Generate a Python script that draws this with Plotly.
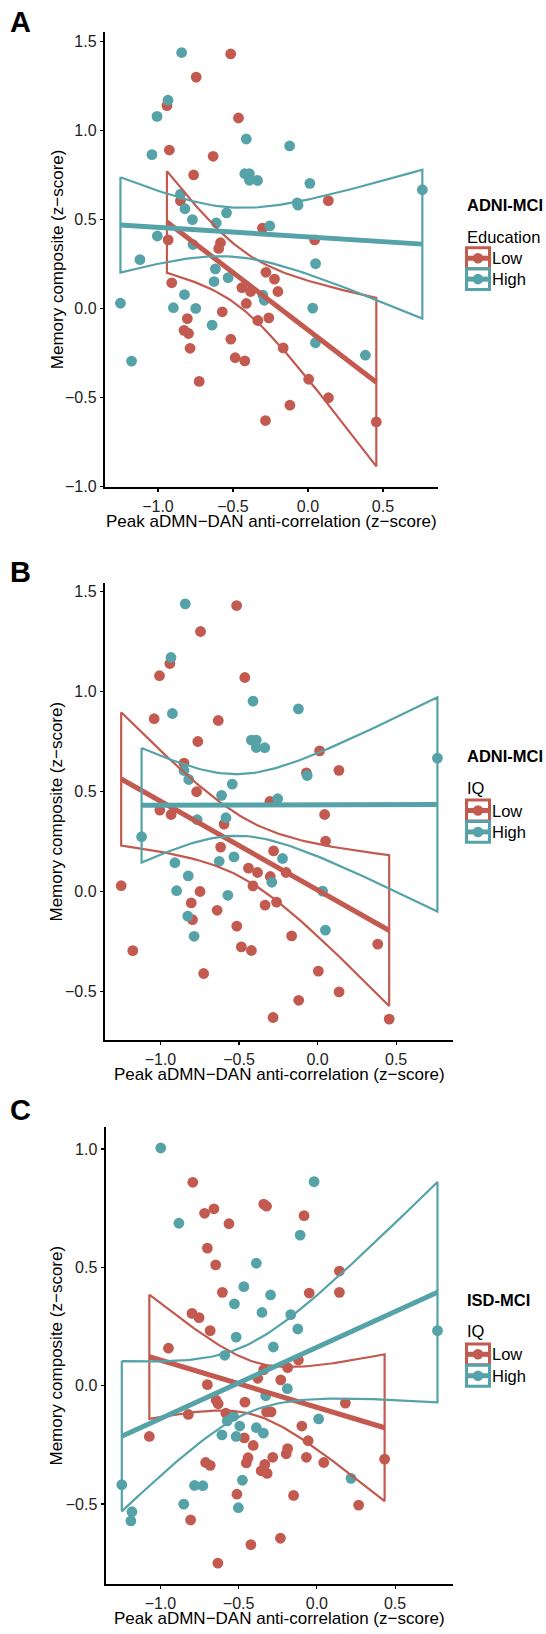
import math
import numpy as np
import plotly.graph_objects as go

# ---------------- DATA ----------------
# ADNI-MCI subjects (same subjects in panels A and B)
adni_x = [-0.515, -0.745, -0.94, -0.463, -0.924, -0.632, -0.762, 0.136, -0.85, -0.303,
          -0.932, 0.045, -0.583, -0.595, -0.28, -0.223, -0.908, -0.20, -0.44, -0.382,
          -0.411, -0.571, -0.804, -0.334, -0.261, -0.826, -0.796, -0.514, -0.786, -0.165,
          -0.485, -0.421, -0.725, 0.005, 0.137, -0.12, -0.283, 0.456,
          -0.842, -0.933, -1.006, -1.04, -0.411, -0.122, -0.421, -0.39, -0.39, -0.336,
          0.013, 0.763, -0.85, -0.066, -0.071, -0.82, -0.543, -0.77, -0.611, -0.254,
          -1.004, -0.766, -1.12, 0.051, -0.617, -0.626, -0.532, -0.823, -0.291, -0.301,
          -0.897, -0.748, -1.25, 0.032, -0.639, 0.05, 0.383, -1.176]
adni_y = [1.43, 1.30, 1.14, 1.07, 0.89, 0.855, 0.75, 0.606, 0.605, 0.451,
          0.385, 0.385, 0.369, 0.337, 0.203, 0.165, 0.144, 0.095, 0.117, 0.095,
          0.028, -0.019, -0.057, -0.068, -0.053, -0.123, -0.141, -0.173, -0.224, -0.222,
          -0.277, -0.295, -0.41, -0.398, -0.502, -0.544, -0.63, -0.638,
          1.438, 1.17, 1.079, 0.864, 0.952, 0.913, 0.757, 0.757, 0.72, 0.719,
          0.703, 0.667, 0.642, 0.58, 0.593, 0.56, 0.537, 0.499, 0.481, 0.464,
          0.407, 0.359, 0.274, 0.252, 0.222, 0.151, 0.173, 0.078, 0.046, 0.075,
          0.004, 0.0, 0.029, 0.002, -0.094, -0.193, -0.263, -0.296]
adni_edu = ["Low"] * 38 + ["High"] * 38
adni_iq = ["Low", "Low", "Low", "Low", "High", "Low", "Low", "Low", "High", "Low",
           "Low", "Low", "High", "Low", "Low", "High", "High", "Low", "Low", "Low",
           "Low", "High", "Low", "Low", "Low", "High", "Low", "Low", "High", "Low",
           "Low", "Low", "Low", "Low", "Low", "Low", "Low", "Low",
           "High", "High", "Low", "Low", "High", "High", "High", "High", "High", "High",
           "Low", "High", "Low", "High", "Low", "High", "High", "Low", "High", "High",
           "Low", "High", "High", "Low", "Low", "High", "High", "High", "High", "Low",
           "High", "Low", "Low", "High", "Low", "High", "Low", "Low"]

# ISD-MCI subjects (panel C)
isd_low_x = [-0.793, -0.718, -0.658, -0.562, -0.340, -0.322, -0.082, -0.700, -0.647, 0.144,
             -0.604, -0.049, 0.144, -0.798, -0.753, -0.682, -0.949, -0.118, -0.187, -0.340,
             -0.378, -0.231, -0.700, -0.644, -0.631, -0.460, 0.182, -0.822, -0.582, -0.293,
             -0.322, -0.096, -1.071, -0.464, -0.056, -0.407, -0.187, -0.196, -0.440, -0.451,
             -0.282, -0.067, 0.044, 0.433, -0.711, -0.682, -0.333, -0.356, -0.318, -0.511,
             -0.149, 0.267, -0.807, -0.233, -0.422, -0.633]
isd_low_y = [0.859, 0.728, 0.747, 0.684, 0.767, 0.758, 0.718, 0.581, 0.510, 0.484,
             0.394, 0.391, 0.394, 0.305, 0.287, 0.232, 0.158, 0.108, 0.076, 0.067,
             0.031, 0.024, 0.004, -0.062, -0.077, -0.070, -0.074, -0.122, -0.117, -0.111,
             -0.111, -0.171, -0.215, -0.221, -0.233, -0.253, -0.266, -0.288, -0.305, -0.327,
             -0.303, -0.303, -0.325, -0.311, -0.325, -0.337, -0.333, -0.360, -0.371, -0.459,
             -0.464, -0.505, -0.568, -0.645, -0.672, -0.750]
isd_high_x = [-0.998, -0.018, -0.882, -0.107, -0.387, -0.467, -0.296, -0.527, -0.351, -0.167,
              -0.122, -0.516, -0.278, -0.589, 0.771, -0.189, -0.327, 0.011, -0.533, -0.573,
              -0.493, -0.387, -0.342, -0.607, -0.516, -1.247, -0.476, -0.782, -0.729, 0.218,
              -0.851, -0.502, -1.182, -1.189]
isd_high_y = [1.004, 0.862, 0.686, 0.636, 0.517, 0.418, 0.383, 0.345, 0.309, 0.300,
              0.239, 0.205, 0.163, 0.128, 0.232, -0.013, -0.043, -0.141, -0.129, -0.149,
              -0.171, -0.178, -0.201, -0.208, -0.215, -0.419, -0.400, -0.422, -0.423, -0.392,
              -0.501, -0.516, -0.533, -0.572]

x_tickvals = [-1.0, -0.5, 0.0, 0.5]
x_ticktext = ["\u22121.0", "\u22120.5", "0.0", "0.5"]
yA_tickvals = [-1.0, -0.5, 0.0, 0.5, 1.0, 1.5]
yA_ticktext = ["\u22121.0", "\u22120.5", "0.0", "0.5", "1.0", "1.5"]
yB_tickvals = [-0.5, 0.0, 0.5, 1.0, 1.5]
yB_ticktext = ["\u22120.5", "0.0", "0.5", "1.0", "1.5"]
yC_tickvals = [-0.5, 0.0, 0.5, 1.0]
yC_ticktext = ["\u22120.5", "0.0", "0.5", "1.0"]

group_names = ["Low", "High"]
panel_letters = ["A", "B", "C"]
cohort_titles = ["ADNI-MCI", "ADNI-MCI", "ISD-MCI"]
legend_titles = ["Education", "IQ", "IQ"]
x_title = "Peak aDMN\u2212DAN anti-correlation (z\u2212score)"
y_title = "Memory composite (z\u2212score)"

# ---------------- STYLE ----------------
W, H = 546, 1634
RED = "#C35A50"
TEAL = "#55A3A8"
COLORS = {"Low": RED, "High": TEAL}
FONT = "Liberation Sans, Arial, Helvetica, sans-serif"


def px(x):
    return x / W


def py(y):
    return 1 - y / H


# ---------------- STATS (lm smoother with 95% CI, like geom_smooth) ----------------
def t_quantile(p, df):
    c = math.exp(math.lgamma((df + 1) / 2) - math.lgamma(df / 2)) / math.sqrt(df * math.pi)

    def cdf(t):
        g = np.linspace(0, t, 4001)
        f = c * (1 + g ** 2 / df) ** (-(df + 1) / 2)
        return 0.5 + np.trapezoid(f, g)

    lo, hi = 0.0, 10.0
    for _ in range(60):
        mid = (lo + hi) / 2
        if cdf(mid) < p:
            lo = mid
        else:
            hi = mid
    return (lo + hi) / 2


def lm_fit(xs, ys):
    xs = np.asarray(xs, float)
    ys = np.asarray(ys, float)
    n = len(xs)
    b, a = np.polyfit(xs, ys, 1)
    resid = ys - (a + b * xs)
    s = math.sqrt(np.sum(resid ** 2) / (n - 2))
    sxx = np.sum((xs - xs.mean()) ** 2)
    grid = np.linspace(xs.min(), xs.max(), 80)
    fit = a + b * grid
    se = s * np.sqrt(1 / n + (grid - xs.mean()) ** 2 / sxx)
    tq = t_quantile(0.975, n - 2)
    return grid, fit, fit - tq * se, fit + tq * se


# ---------------- PANELS ----------------
def split(xs, ys, groups):
    out = {}
    for g in group_names:
        out[g] = ([x for x, gg in zip(xs, groups) if gg == g],
                  [y for y, gg in zip(ys, groups) if gg == g])
    return out


panel_data = [
    split(adni_x, adni_y, adni_edu),
    split(adni_x, adni_y, adni_iq),
    {"Low": (isd_low_x, isd_low_y), "High": (isd_high_x, isd_high_y)},
]

# pixel geometry of each panel: left, right, top, bottom
geom = [(105.3, 437.5, 31.7, 489.3), (105.3, 453.3, 586.0, 1045.0), (106.0, 453.3, 1132.7, 1591.7)]
xranges = [[-1.351, 0.864], [-1.351, 0.864], [-1.348, 0.872]]
yranges = [[-1.003, 1.556], [-0.742, 1.542], [-0.838, 1.092]]
yticks = [(yA_tickvals, yA_ticktext), (yB_tickvals, yB_ticktext), (yC_tickvals, yC_ticktext)]
letter_y = [22, 575, 1115]
legend_pos = [  # title y, subtitle y, low key top, high key top
    (205.7, 237.7, 249, 270),
    (760, 791.7, 804, 825.5),
    (1306.5, 1338, 1350.5, 1372),
]

fig = go.Figure()
annotations = []
shapes = []

for i in range(3):
    xa = "x" if i == 0 else f"x{i + 1}"
    ya = "y" if i == 0 else f"y{i + 1}"
    data = panel_data[i]
    for g in group_names:
        xs, ys = data[g]
        fig.add_trace(go.Scatter(x=xs, y=ys, mode="markers", xaxis=xa, yaxis=ya,
                                 marker=dict(size=10.8, color=COLORS[g], line=dict(width=0)),
                                 showlegend=False, hoverinfo="skip"))
    for g in group_names:
        xs, ys = data[g]
        grid, fit, lo, hi = lm_fit(xs, ys)
        bx = list(grid) + list(grid[::-1]) + [grid[0]]
        by = list(hi) + list(lo[::-1]) + [hi[0]]
        fig.add_trace(go.Scatter(x=bx, y=by, mode="lines", xaxis=xa, yaxis=ya,
                                 line=dict(color=COLORS[g], width=2.2),
                                 showlegend=False, hoverinfo="skip"))
        fig.add_trace(go.Scatter(x=grid, y=fit, mode="lines", xaxis=xa, yaxis=ya,
                                 line=dict(color=COLORS[g], width=5),
                                 showlegend=False, hoverinfo="skip"))

    l, r, t, b = geom[i]
    axis_common = dict(showline=True, linecolor="black", linewidth=2.5, showgrid=False,
                       zeroline=False, ticks="outside", ticklen=3, tickwidth=1.2,
                       tickcolor="black", tickfont=dict(family=FONT, size=16, color="#222"),
                       fixedrange=True)
    fig.layout[("xaxis" if i == 0 else f"xaxis{i + 1}")] = dict(
        domain=[px(l), px(r)], range=xranges[i], anchor=ya,
        tickvals=x_tickvals, ticktext=x_ticktext, **axis_common)
    fig.layout[("yaxis" if i == 0 else f"yaxis{i + 1}")] = dict(
        domain=[py(b), py(t)], range=yranges[i], anchor=xa,
        tickvals=yticks[i][0], ticktext=yticks[i][1], **axis_common)

    # panel letter
    annotations.append(dict(x=px(9), y=py(letter_y[i]), xref="paper", yref="paper",
                            text=f"<b>{panel_letters[i]}</b>", showarrow=False,
                            xanchor="left", yanchor="middle", borderpad=0,
                            font=dict(family=FONT, size=29, color="black")))
    # axis titles
    annotations.append(dict(x=px((l + r) / 2), y=py(b + 35), xref="paper", yref="paper",
                            text=x_title, showarrow=False, xanchor="center", yanchor="middle",
                            font=dict(family=FONT, size=17, color="black")))
    annotations.append(dict(x=px(57), y=py((t + b) / 2), xref="paper", yref="paper",
                            text=y_title, showarrow=False, textangle=-90,
                            xanchor="center", yanchor="middle",
                            font=dict(family=FONT, size=17, color="black")))
    # legend
    ty, sy, k1, k2 = legend_pos[i]
    annotations.append(dict(x=px(466), y=py(ty), xref="paper", yref="paper",
                            text=f"<b>{cohort_titles[i]}</b>", showarrow=False,
                            xanchor="left", yanchor="middle", borderpad=0,
                            font=dict(family=FONT, size=16.5, color="black")))
    annotations.append(dict(x=px(466), y=py(sy), xref="paper", yref="paper",
                            text=legend_titles[i], showarrow=False,
                            xanchor="left", yanchor="middle", borderpad=0,
                            font=dict(family=FONT, size=16.5, color="black")))
    for g, ktop in zip(group_names, (k1, k2)):
        c = COLORS[g]
        kl, kr, kb = 466.5, 489.5, ktop + 21
        kc = ktop + 10.5
        shapes.append(dict(type="rect", xref="paper", yref="paper",
                           x0=px(kl), x1=px(kr), y0=py(kb), y1=py(ktop),
                           line=dict(color=c, width=3), fillcolor="rgba(0,0,0,0)"))
        shapes.append(dict(type="line", xref="paper", yref="paper",
                           x0=px(kl), x1=px(kr), y0=py(kc), y1=py(kc),
                           line=dict(color=c, width=5)))
        shapes.append(dict(type="circle", xref="paper", yref="paper",
                           x0=px(478 - 5.3), x1=px(478 + 5.3), y0=py(kc + 5.3), y1=py(kc - 5.3),
                           line=dict(color=c, width=0), fillcolor=c))
        annotations.append(dict(x=px(490.5), y=py(kc), xref="paper", yref="paper",
                                text=g, showarrow=False, xanchor="left", yanchor="middle",
                                borderpad=0,
                                font=dict(family=FONT, size=16.5, color="black")))

fig.update_layout(width=W, height=H, autosize=False,
                  margin=dict(l=0, r=0, t=0, b=0),
                  paper_bgcolor="white", plot_bgcolor="white",
                  font=dict(family=FONT, size=14, color="black"),
                  showlegend=False, annotations=annotations, shapes=shapes)

fig.write_html(
    "out.html",
    config={"displayModeBar": False, "staticPlot": True},
    post_script=("document.documentElement.style.margin='0';"
                 "document.body.style.margin='0';document.body.style.padding='0';"
                 "document.body.style.overflow='hidden';"),
)
